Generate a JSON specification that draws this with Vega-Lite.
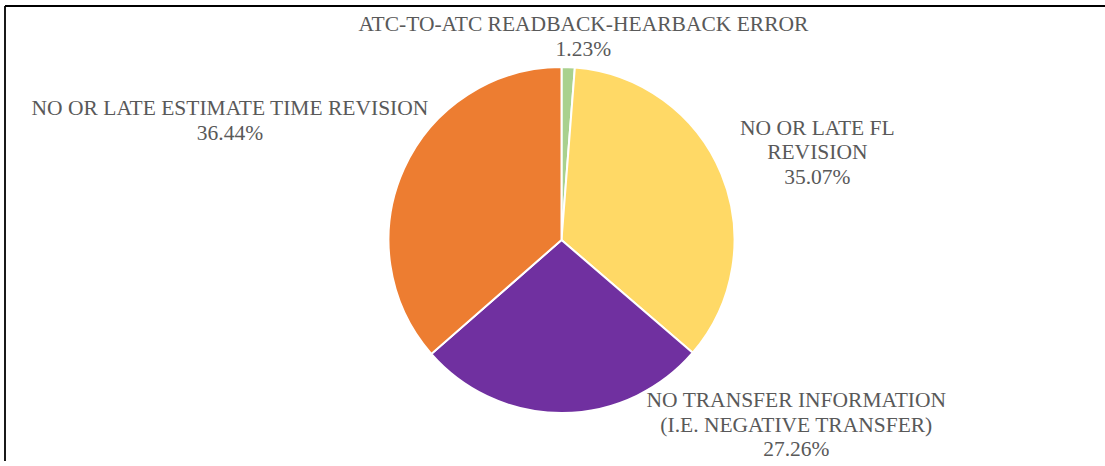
{
  "$schema": "https://vega.github.io/schema/vega-lite/v6.json",
  "autosize": "none",
  "width": 1100,
  "height": 455,
  "padding": {"left": 5, "top": 6, "right": 0, "bottom": 0},
  "background": "white",
  "config": {"view": {"stroke": null}},
  "layer": [
    {
      "data": {"values": [{"frame": 1}]},
      "mark": {"type": "rule", "stroke": "black", "strokeWidth": 1.8},
      "encoding": {"y": {"value": 0}}
    },
    {
      "data": {"values": [{"frame": 1}]},
      "mark": {"type": "rule", "stroke": "black", "strokeWidth": 1.8},
      "encoding": {"x": {"value": 0}}
    },
    {
      "data": {"name": "slices"},
      "encoding": {
        "theta": {"field": "value", "type": "quantitative", "stack": true},
        "order": {"field": "order", "type": "quantitative"}
      },
      "layer": [
        {
          "mark": {"type": "arc", "x": {"expr": "width/2 + 6.5"}, "y": {"expr": "height/2 + 6.5"}, "outerRadius": 173, "stroke": "white", "strokeWidth": 2},
          "encoding": {
            "color": {
              "field": "category",
              "type": "nominal",
              "scale": {
                "domain": ["ATC-TO-ATC READBACK-HEARBACK ERROR", "NO OR LATE FL REVISION", "NO TRANSFER INFORMATION (I.E. NEGATIVE TRANSFER)", "NO OR LATE ESTIMATE TIME REVISION"],
                "range": ["#A9D18E", "#FFD966", "#7030A0", "#ED7D31"]
              },
              "legend": null
            }
          }
        },
        {
          "mark": {"type": "text", "x": {"expr": "width/2 + 6.5"}, "y": {"expr": "height/2 + 6.5"}, "radius": 204, "dx": 14, "dy": -11, "font": "Liberation Serif", "fontSize": 21.5, "lineHeight": 24.5, "color": "#595959", "align": "center", "baseline": "middle"},
          "encoding": {
            "text": {"condition": {"test": "datum.order === 1", "field": "lines"}, "value": ""}
          }
        },
        {
          "mark": {"type": "text", "x": {"expr": "width/2 + 6.5"}, "y": {"expr": "height/2 + 6.5"}, "radius": 240, "dx": 34, "dy": -19.5, "font": "Liberation Serif", "fontSize": 21.5, "lineHeight": 24.5, "color": "#595959", "align": "center", "baseline": "middle"},
          "encoding": {
            "text": {"condition": {"test": "datum.order === 2", "field": "lines"}, "value": ""}
          }
        },
        {
          "mark": {"type": "text", "x": {"expr": "width/2 + 6.5"}, "y": {"expr": "height/2 + 6.5"}, "radius": 185, "dx": 234, "dy": -23.5, "font": "Liberation Serif", "fontSize": 21.5, "lineHeight": 24.5, "color": "#595959", "align": "center", "baseline": "middle"},
          "encoding": {
            "text": {"condition": {"test": "datum.order === 3", "field": "lines"}, "value": ""}
          }
        },
        {
          "mark": {"type": "text", "x": {"expr": "width/2 + 6.5"}, "y": {"expr": "height/2 + 6.5"}, "radius": 240, "dx": -113, "dy": -31.4, "font": "Liberation Serif", "fontSize": 21.5, "lineHeight": 24.5, "color": "#595959", "align": "center", "baseline": "middle"},
          "encoding": {
            "text": {"condition": {"test": "datum.order === 4", "field": "lines"}, "value": ""}
          }
        }
      ]
    }
  ],
  "datasets": {
    "slices": [
      {"order": 1, "category": "ATC-TO-ATC READBACK-HEARBACK ERROR", "value": 1.23, "lines": ["ATC-TO-ATC READBACK-HEARBACK ERROR", "1.23%"]},
      {"order": 2, "category": "NO OR LATE FL REVISION", "value": 35.07, "lines": ["NO OR LATE FL", "REVISION", "35.07%"]},
      {"order": 3, "category": "NO TRANSFER INFORMATION (I.E. NEGATIVE TRANSFER)", "value": 27.26, "lines": ["NO TRANSFER INFORMATION", "(I.E. NEGATIVE TRANSFER)", "27.26%"]},
      {"order": 4, "category": "NO OR LATE ESTIMATE TIME REVISION", "value": 36.44, "lines": ["NO OR LATE ESTIMATE TIME REVISION", "36.44%"]}
    ]
  }
}
